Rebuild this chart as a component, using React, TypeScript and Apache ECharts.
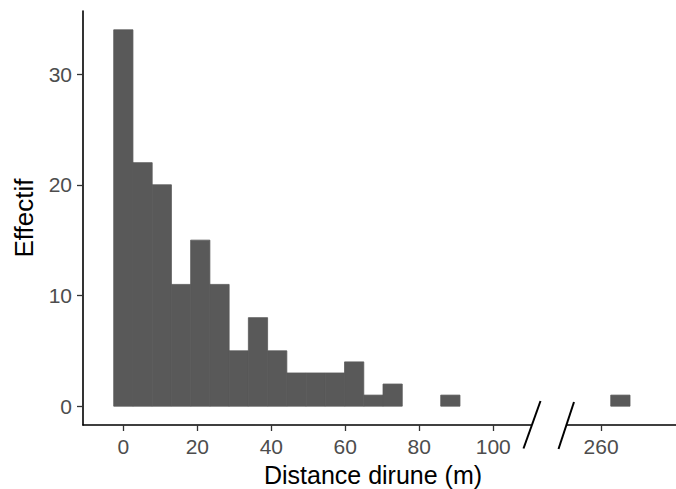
import React, { useEffect, useRef } from "react";
import * as echarts from "echarts";

// Histogram bins (bin centre in metres) and counts
const binWidth = 5.2;
const binCenters = [0, 5.2, 10.4, 15.6, 20.8, 26, 31.2, 36.4, 41.6, 46.8, 52, 57.2, 62.4, 67.6, 72.8, 88.4, 265.2];
const counts = [34, 22, 20, 11, 15, 11, 5, 8, 5, 3, 3, 3, 4, 1, 2, 1, 1];
const leftTicks = [0, 20, 40, 60, 80, 100];
const rightTicks = [260];
const yTicks = [0, 10, 20, 30];
const xTitle = "Distance dirune (m)";
const yTitle = "Effectif";

export default function App() {
  const ref = useRef<HTMLDivElement>(null);
  useEffect(() => {
    if (!ref.current) return;
    const chart = echarts.init(ref.current, undefined, { renderer: "svg" });
    const all = binCenters.map((c, i) => [c, counts[i]]);
    const leftData = all.filter((d) => d[0] < 200);
    const rightData = all.filter((d) => d[0] >= 200);
    const renderItem = (params: any, api: any) => {
      const c = api.value(0);
      const n = api.value(1);
      const p0 = api.coord([c - binWidth / 2, n]);
      const p1 = api.coord([c + binWidth / 2, 0]);
      return {
        type: "rect",
        shape: { x: p0[0], y: p0[1], width: p1[0] - p0[0], height: p1[1] - p0[1] },
        style: { fill: "#595959", stroke: "#595959", lineWidth: 0.8 },
      };
    };
    const font = "'Liberation Sans', Arial, sans-serif";
    const tickStyle = { color: "#333333", width: 1.3 };
    const lineStyle = { color: "#000000", width: 1.6 };
    chart.setOption({
      animation: false,
      textStyle: { fontFamily: font },
      grid: [
        { left: 83, top: 11, width: 448, height: 414 },
        { left: 567, top: 11, width: 109, height: 414 },
      ],
      xAxis: [
        {
          type: "value",
          gridIndex: 0,
          min: -10.9,
          max: 110.2,
          splitLine: { show: false },
          axisLine: { show: true, onZero: false, lineStyle },
          axisTick: { show: true, length: 6, lineStyle: tickStyle, customValues: leftTicks },
          axisLabel: { customValues: leftTicks, fontSize: 21, color: "#4d4d4d", margin: 11, fontFamily: font },
        },
        {
          type: "value",
          gridIndex: 1,
          min: 250.8,
          max: 280.2,
          splitLine: { show: false },
          axisLine: { show: true, onZero: false, lineStyle },
          axisTick: { show: true, length: 6, lineStyle: tickStyle, customValues: rightTicks },
          axisLabel: { customValues: rightTicks, fontSize: 21, color: "#4d4d4d", margin: 11, fontFamily: font },
        },
      ],
      yAxis: [
        {
          type: "value",
          gridIndex: 0,
          min: -1.7,
          max: 35.7,
          splitLine: { show: false },
          axisLine: { show: true, onZero: false, lineStyle },
          axisTick: { show: true, length: 6, lineStyle: tickStyle, customValues: yTicks },
          axisLabel: { customValues: yTicks, fontSize: 21, color: "#4d4d4d", margin: 11, fontFamily: font },
          name: yTitle,
          nameLocation: "middle",
          nameGap: 46,
          nameTextStyle: { fontSize: 26, color: "#000000", fontFamily: font },
        },
        {
          type: "value",
          gridIndex: 1,
          min: -1.7,
          max: 35.7,
          show: false,
        },
      ],
      series: [
        { type: "custom", xAxisIndex: 0, yAxisIndex: 0, data: leftData, renderItem, encode: { x: 0, y: 1 } },
        { type: "custom", xAxisIndex: 1, yAxisIndex: 1, data: rightData, renderItem, encode: { x: 0, y: 1 } },
      ],
      graphic: [
        {
          type: "line",
          shape: { x1: 523.5, y1: 448.5, x2: 540.5, y2: 401 },
          style: { stroke: "#000000", lineWidth: 2 },
        },
        {
          type: "line",
          shape: { x1: 558.5, y1: 449, x2: 574, y2: 402 },
          style: { stroke: "#000000", lineWidth: 2 },
        },
        {
          type: "text",
          x: 373,
          y: 475,
          style: {
            text: xTitle,
            fontSize: 25,
            fill: "#000000",
            fontFamily: font,
            textAlign: "center",
            textVerticalAlign: "middle",
          },
        },
      ],
    });
    return () => chart.dispose();
  }, []);
  return (
    <div
      ref={ref}
      style={{ position: "absolute", left: 0, top: 0, width: 676, height: 489, background: "#ffffff" }}
    />
  );
}
